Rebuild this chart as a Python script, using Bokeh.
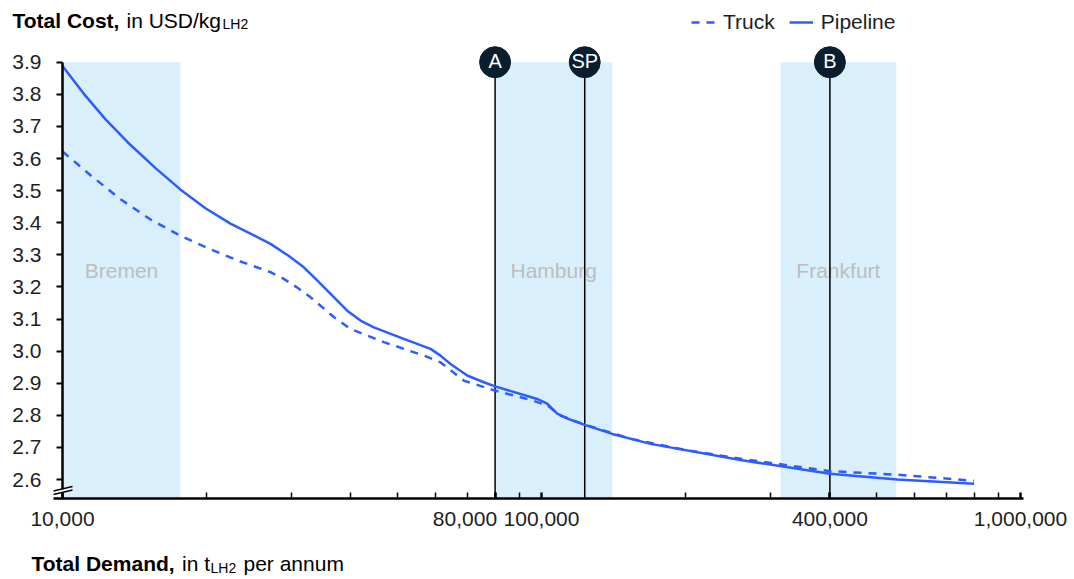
import numpy as np
from bokeh.plotting import figure
from bokeh.models import (Range1d, FixedTicker, Label, Legend, LegendItem,
                          ColumnDataSource, Arrow, PolyAnnotation)
from bokeh.core.properties import value
from bokeh.embed import file_html
from bokeh.resources import INLINE

# ---------------- data ----------------
truck_x = [10000, 11440, 13215, 15268, 17640, 20370, 23530, 27180, 28970, 30900,
           32940, 36850, 39930, 46860, 56800, 61530, 68830, 80000, 94840, 102780,
           109570, 123100, 153450, 197950, 262000, 400000, 552900, 800000]
truck_y = [3.622, 3.548, 3.473, 3.410, 3.359, 3.317, 3.279, 3.246, 3.225, 3.198,
           3.168, 3.106, 3.069, 3.028, 2.986, 2.965, 2.908, 2.877, 2.848, 2.831,
           2.799, 2.771, 2.727, 2.693, 2.664, 2.626, 2.615, 2.596]

pipe_x = [10000, 11060, 12300, 13870, 15640, 17640, 19880, 22420, 25290, 27180,
          29640, 31900, 34020, 36850, 39300, 41900, 44660, 51590, 58660, 61530,
          64570, 69970, 75800, 80000, 97950, 102780, 107840, 114960, 123100, 140500,
          168900, 262000, 400000, 552900, 800000]
pipe_y = [3.888, 3.803, 3.722, 3.642, 3.570, 3.503, 3.445, 3.397, 3.358, 3.334,
          3.297, 3.261, 3.220, 3.168, 3.126, 3.095, 3.074, 3.038, 3.007, 2.986,
          2.960, 2.924, 2.903, 2.890, 2.851, 2.836, 2.805, 2.786, 2.770, 2.742,
          2.711, 2.660, 2.618, 2.600, 2.587]

band_names = ["Bremen", "Hamburg", "Frankfurt"]
band_left = [10000, 80000, 315500]
band_right = [17630, 140500, 550300]

marker_names = ["A", "SP", "B"]
marker_x = [80000, 123100, 400000]

x_tick_values = [10000, 80000, 100000, 400000, 1000000]
x_tick_labels = ["10,000", "80,000", "100,000", "400,000", "1,000,000"]
x_minor_ticks = [20000, 30000, 40000, 50000, 60000, 70000, 80000, 90000,
                 200000, 300000, 400000, 500000, 600000, 700000, 800000, 900000]
y_tick_values = [2.6, 2.7, 2.8, 2.9, 3.0, 3.1, 3.2, 3.3, 3.4, 3.5, 3.6, 3.7, 3.8, 3.9]
y_tick_labels = ["2.6", "2.7", "2.8", "2.9", "3.0", "3.1", "3.2", "3.3", "3.4",
                 "3.5", "3.6", "3.7", "3.8", "3.9"]

# ---------------- style / geometry ----------------
FONT = "Liberation Sans"
BLUE = "#2d5cff"
BAND = "#d9f0fc"
NAVY = "#0b1e2d"
TXT = "#1e1e1e"
W, H = 1074, 579
PX_DEC = 479.0     # pixels per decade on x
PX_UNIT = 321.0    # pixels per cost unit on y
X_ORIG = 62        # pixel column of 10,000
Y_ORIG = 479       # pixel row of 2.6


def X(px):
    return 10 ** (4 + (px - X_ORIG) / PX_DEC)


def Y(py):
    return 2.6 + (Y_ORIG - py) / PX_UNIT


YB = Y(498)     # x-axis position
YTOP = 3.9

p = figure(width=W, height=H, x_axis_type="log",
           x_range=Range1d(X(0), X(W)), y_range=Range1d(Y(H), Y(0)),
           output_backend="svg", toolbar_location=None, title=None,
           min_border=0, min_border_left=0, min_border_right=0,
           min_border_top=0, min_border_bottom=0)
p.outline_line_color = None
p.grid.visible = False
p.background_fill_color = "white"
p.border_fill_color = "white"

# bands
band_src = ColumnDataSource(dict(left=band_left, right=band_right, name=band_names,
                                 cx=[np.sqrt(l * r) for l, r in zip(band_left, band_right)]))
p.quad(left="left", right="right", bottom=YB, top=YTOP, source=band_src,
       fill_color=BAND, line_color=None)
p.text(x="cx", y=3.25, text="name", source=band_src, text_align="center",
       text_baseline="middle", text_color="#bdbdbd", text_font=value(FONT),
       text_font_size="21px")

# vertical marker lines
mk_src = ColumnDataSource(dict(x=marker_x, name=marker_names))
p.segment(x0="x", y0=YB, x1="x", y1=YTOP, source=mk_src, line_color="black",
          line_width=1.5)

# curves
rt = p.line(truck_x, truck_y, line_color=BLUE, line_width=2.5, line_dash="8 7",
            line_join="round")
rp = p.line(pipe_x, pipe_y, line_color=BLUE, line_width=2.5, line_join="round")

# marker circles
p.scatter(x="x", y=YTOP, source=mk_src, size=31, fill_color=NAVY, line_color=NAVY)
p.text(x="x", y=YTOP, text="name", source=mk_src, text_align="center",
       text_baseline="middle", text_color="white", text_font=value(FONT),
       text_font_size="20px", y_offset=-1)

# axes (fixed inside the full-canvas frame)
xa = p.xaxis[0]
xa.fixed_location = YB
xa.bounds = (X(53), X(1023))
xa.ticker = FixedTicker(ticks=x_tick_values, minor_ticks=x_minor_ticks)
xa.major_label_overrides = {v: ("" if v == 80000 else l) for v, l in zip(x_tick_values, x_tick_labels)}
xa.axis_line_width = 2.5
xa.axis_line_color = "black"
xa.major_tick_in = 6
xa.major_tick_out = 0
xa.major_tick_line_width = 2.5
xa.minor_tick_in = 6
xa.minor_tick_out = 0
xa.minor_tick_line_width = 1.5
xa.major_label_text_font = FONT
xa.major_label_text_font_size = "21px"
xa.major_label_text_color = TXT
xa.major_label_standoff = 13

ya = p.yaxis[0]
ya.fixed_location = 10000
ya.ticker = FixedTicker(ticks=y_tick_values, minor_ticks=[])
ya.major_label_overrides = {v: l for v, l in zip(y_tick_values, y_tick_labels)}
ya.bounds = (YB, YTOP)
ya.axis_line_width = 2.5
ya.axis_line_color = "black"
ya.major_tick_in = 0
ya.major_tick_out = 6
ya.major_tick_line_width = 2
ya.minor_tick_line_color = None
ya.major_label_text_font = FONT
ya.major_label_text_font_size = "21px"
ya.major_label_text_color = TXT
ya.major_label_standoff = 15

# shifted tick label for 80,000
p.add_layout(Label(x=80000, y=YB, text=x_tick_labels[1], text_align="right",
                   text_baseline="top", x_offset=2, y_offset=-13,
                   text_font=FONT, text_font_size="21px", text_color=TXT))

# axis break symbol
p.add_layout(PolyAnnotation(xs=[X(56), X(70), X(70), X(56)],
                            ys=[Y(490.5), Y(487), Y(490.5), Y(494)],
                            fill_color="white", fill_alpha=1, line_color=None))
for py in (494, 490.5):
    p.add_layout(Arrow(end=None, x_start=X(53), y_start=Y(py),
                       x_end=X(72), y_end=Y(py - 4.5),
                       line_color="black", line_width=1.3))

# legend
legend = Legend(items=[LegendItem(label="Truck", renderers=[rt]),
                       LegendItem(label="Pipeline", renderers=[rp])],
                orientation="horizontal", location=(691, H - 34), padding=0, margin=0,
                spacing=14, glyph_width=24, glyph_height=20, label_standoff=8,
                label_text_font=FONT, label_text_font_size="21px",
                label_text_color=TXT, border_line_alpha=0, background_fill_alpha=0)
p.add_layout(legend)


# titles (offsets in pixels from the axis corner)
def lab(text, y, dx, dy, bold=False, size="21px"):
    p.add_layout(Label(x=10000, y=y, text=text, x_offset=dx, y_offset=dy,
                       text_font=FONT, text_font_size=size, text_color="black",
                       text_font_style="bold" if bold else "normal",
                       text_baseline="alphabetic"))


lab("Total Cost,", YTOP, -50, 42, bold=True)
lab("in USD/kg", YTOP, 64, 42)
lab("LH2", YTOP, 160, 38, size="14px")

lab("Total Demand,", YB, -31, -65, bold=True)
lab("in t", YB, 119.5, -65)
lab("LH2", YB, 148, -69, size="14px")
lab("per annum", YB, 181, -65)

open("out.html", "w").write(file_html(p, INLINE))
